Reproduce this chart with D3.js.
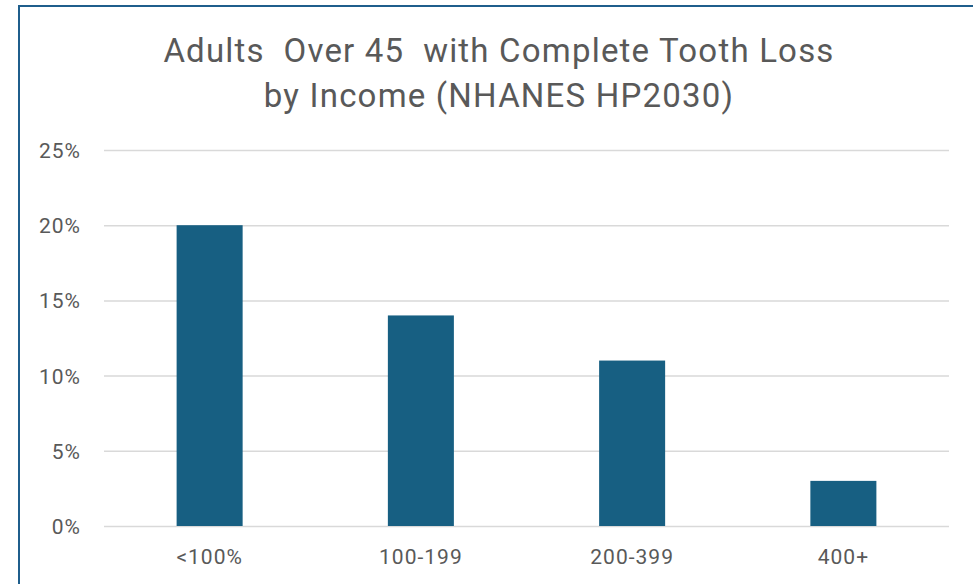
<!DOCTYPE html>
<html>
<head>
<meta charset="utf-8">
<script src="https://cdn.jsdelivr.net/npm/d3@7"></script>
<style>
  body { margin: 0; background: #fff; }
  svg { display: block; }
  text { font-family: Roboto, "Noto Sans", sans-serif; fill: #595959; white-space: pre; }
</style>
</head>
<body>
<div id="chart"></div>
<script>
// data
var categories = ["<100%", "100-199", "200-399", "400+"];
var values = [20, 14, 11, 3];
var yTicks = [0, 5, 10, 15, 20, 25];
var titleLines = ["Adults  Over 45  with Complete Tooth Loss", "by Income (NHANES HP2030)"];

var svgWidth = 973, svgHeight = 584;
var margin = {top: 150, right: 24, bottom: 58, left: 104};
var width = svgWidth - margin.left - margin.right;
var height = svgHeight - margin.top - margin.bottom;

var svgBG = d3.select("#chart").append("svg")
    .attr("width", svgWidth)
    .attr("height", svgHeight);

// frame of the chart area (runs off the right and bottom edges)
svgBG.append("rect")
    .attr("x", 19).attr("y", 6)
    .attr("width", 1000).attr("height", 1000)
    .attr("fill", "none")
    .attr("stroke", "#1f5e8c")
    .attr("stroke-width", 2);

svgBG.append("text")
    .attr("text-anchor", "middle")
    .attr("xml:space", "preserve")
    .style("font-size", "33px")
    .style("letter-spacing", "1.2px")
    .selectAll("tspan")
    .data(titleLines)
    .enter().append("tspan")
    .attr("x", 499)
    .attr("y", function(d, i) { return 62 + i * 45; })
    .text(function(d) { return d; });

var svg = svgBG.append("g")
    .attr("transform", "translate(" + margin.left + "," + margin.top + ")");

var x = d3.scaleBand().domain(categories).range([0, width]).padding(0);
var y = d3.scaleLinear().domain([0, 25]).range([height, 0]);

// gridlines + y labels
var yAxis = d3.axisLeft(y)
    .tickValues(yTicks)
    .tickSize(-width)
    .tickPadding(23)
    .tickFormat(function(d) { return d + "%"; });

var yAxisSVG = svg.append("g").attr("class", "y axis").call(yAxis);
yAxisSVG.select(".domain").remove();
yAxisSVG.selectAll("line").attr("stroke", "#d9d9d9").attr("stroke-width", 1.5);
yAxisSVG.selectAll("text")
    .style("font-size", "21px")
    .style("letter-spacing", "1px")
    .attr("fill", "#595959")
    .attr("dy", "0.36em");

var barW = x.bandwidth() * 0.3125;

svg.selectAll(".bar")
    .data(values)
    .enter().append("rect")
    .attr("class", "bar")
    .attr("x", function(d, i) { return x(categories[i]) + (x.bandwidth() - barW) / 2; })
    .attr("width", barW)
    .attr("y", function(d) { return y(d); })
    .attr("height", function(d) { return height - y(d); })
    .attr("fill", "#175f82");

var xAxis = d3.axisBottom(x).tickSize(0).tickPadding(23);
var xAxisSVG = svg.append("g")
    .attr("class", "x axis")
    .attr("transform", "translate(0," + height + ")")
    .call(xAxis);
xAxisSVG.select(".domain").remove();
xAxisSVG.selectAll("text")
    .style("font-size", "21px")
    .style("letter-spacing", "1px")
    .attr("fill", "#595959");
</script>
</body>
</html>
